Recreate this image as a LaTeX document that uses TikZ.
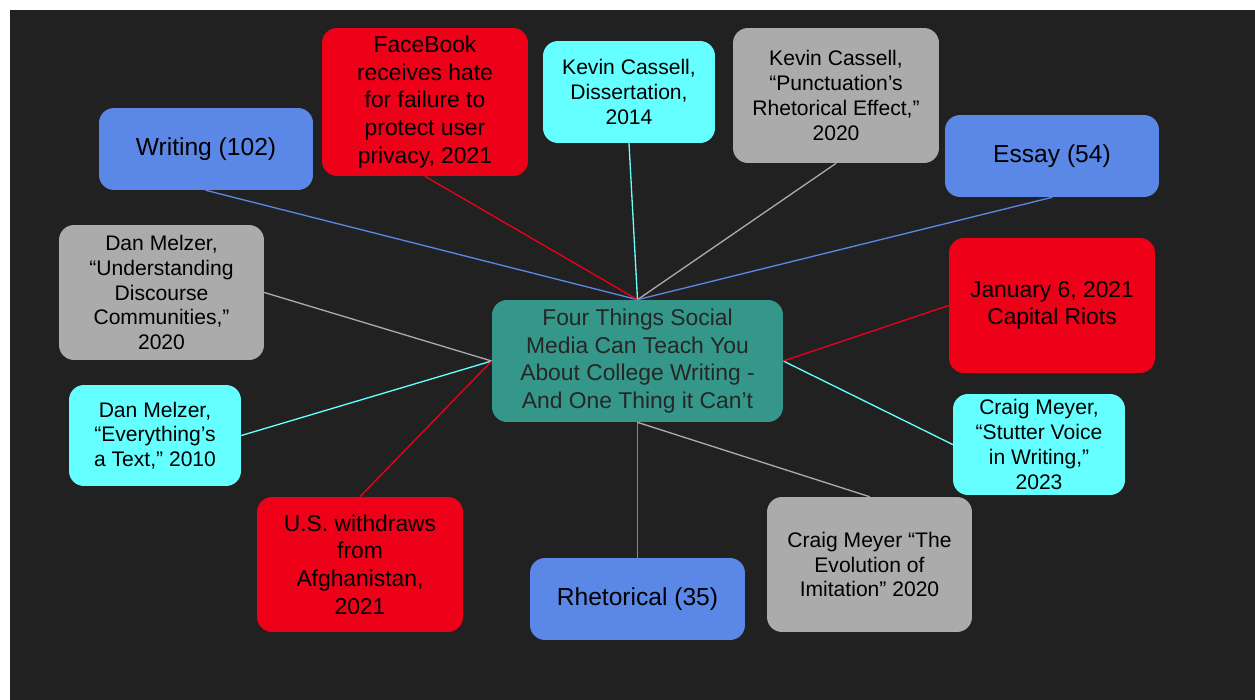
\documentclass[tikz,border=0pt]{standalone}
\usepackage{fontspec}
\setmainfont{Liberation Sans}
\definecolor{bgdark}{HTML}{212121}
\definecolor{termblue}{HTML}{5B87E6}
\definecolor{eventred}{HTML}{EE0019}
\definecolor{srccyan}{HTML}{66FFFF}
\definecolor{srcgray}{HTML}{ABABAB}
\definecolor{hubteal}{HTML}{34978A}
\tikzset{
  card/.style={rounded corners=0.3cm, inner sep=0pt, align=center, text=black},
  termtext/.style={font=\fontsize{14}{16.5}\selectfont},
  bigtext/.style={font=\fontsize{13}{15.7}\selectfont},
  smalltext/.style={font=\fontsize{12}{14.1}\selectfont},
  termcard/.style={card, termtext, fill=termblue},
  eventcard/.style={card, bigtext, fill=eventred},
  citecard/.style={card, smalltext, fill=srccyan},
  papercard/.style={card, smalltext, fill=srcgray},
  link/.style={line width=0.75pt},
}
\begin{document}
\begin{tikzpicture}[x=0.02cm, y=-0.02cm, line join=round, line cap=round]
  % page and dark board
  \fill[white] (0,0) rectangle (1255,700);
  \fill[bgdark] (10,10) rectangle (1255,700);

  % centre topic
  \node[card, bigtext, fill=hubteal, text=black!85, minimum width=5.82cm, minimum height=2.44cm] (hub) at (637.5,361)
    {Four Things Social\\Media Can Teach You\\About College Writing -\\And One Thing it Can’t};

  % upper row
  \node[termcard, minimum width=4.28cm, minimum height=1.64cm] (writing) at (206,149) {Writing (102)};
  \node[eventcard, minimum width=4.12cm, minimum height=2.96cm] (facebook) at (425,102)
    {FaceBook\\receives hate\\for failure to\\protect user\\privacy, 2021};
  \node[citecard, minimum width=3.44cm, minimum height=2.04cm] (dissertation) at (629,92)
    {Kevin Cassell,\\Dissertation,\\2014};
  \node[papercard, minimum width=4.12cm, minimum height=2.7cm] (punctuation) at (836,95.5)
    {Kevin Cassell,\\“Punctuation’s\\Rhetorical Effect,”\\2020};
  \node[termcard, minimum width=4.28cm, minimum height=1.64cm] (essay) at (1052,156) {Essay (54)};

  % left side
  \node[papercard, minimum width=4.1cm, minimum height=2.7cm] (understanding) at (161.5,292.5)
    {Dan Melzer,\\“Understanding\\Discourse\\Communities,”\\2020};
  \node[citecard, minimum width=3.44cm, minimum height=2.02cm] (everything) at (155,435.5)
    {Dan Melzer,\\“Everything’s\\a Text,” 2010};
  \node[eventcard, minimum width=4.12cm, minimum height=2.7cm] (withdraws) at (360,564.5)
    {U.S. withdraws\\from\\Afghanistan,\\2021};

  % lower row and right side
  \node[termcard, minimum width=4.3cm, minimum height=1.64cm] (rhetorical) at (637.5,599) {Rhetorical (35)};
  \node[papercard, minimum width=4.1cm, minimum height=2.7cm] (evolution) at (869.5,564.5)
    {Craig Meyer “The\\Evolution of\\Imitation” 2020};
  \node[citecard, minimum width=3.44cm, minimum height=2.02cm] (stutter) at (1039,444.5)
    {Craig Meyer,\\“Stutter Voice\\in Writing,”\\2023};
  \node[eventcard, minimum width=4.12cm, minimum height=2.7cm] (january) at (1052,305.5)
    {January 6, 2021\\Capital Riots};

  % spokes
  \foreach \n/\c in {writing/termblue, facebook/eventred, dissertation/srccyan, punctuation/srcgray, essay/termblue}
  {
    \draw[link, \c] (\n.south) -- (hub.north);
  }
  \draw[link, srcgray] (understanding.east) -- (hub.west);
  \draw[link, srccyan] (everything.east) -- (hub.west);
  \draw[link, eventred] (withdraws.north) -- (hub.west);
  \draw[link, termblue] (rhetorical.north) -- (hub.south);
  \draw[link, srcgray] (evolution.north) -- (hub.south);
  \draw[link, srccyan] (stutter.west) -- (hub.east);
  \draw[link, eventred] (january.west) -- (hub.east);
\end{tikzpicture}
\end{document}
